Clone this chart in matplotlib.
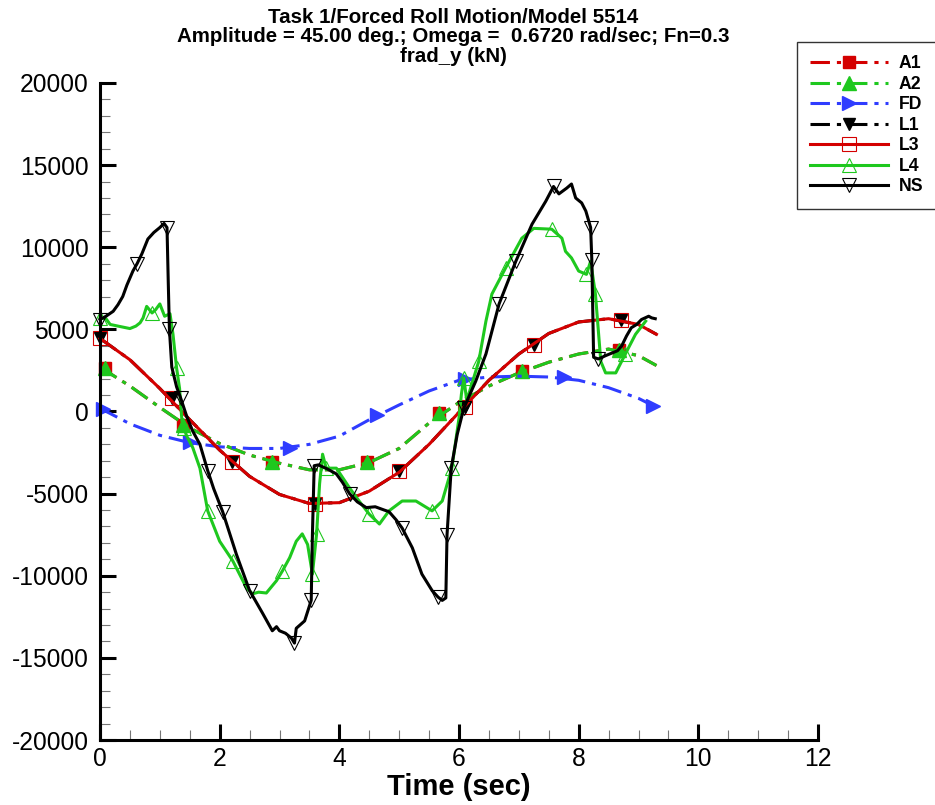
import matplotlib
matplotlib.use("Agg")
import matplotlib.pyplot as plt
from matplotlib.lines import Line2D
from matplotlib.ticker import MultipleLocator

plt.rcParams['font.family'] = ['Liberation Sans', 'DejaVu Sans']
plt.rcParams['lines.scale_dashes'] = False
plt.rcParams['axes.unicode_minus'] = False

# smooth model curves, read every 0.5 s
t_smooth = [0, 0.5, 1.0, 1.5, 2.0, 2.5, 3.0, 3.5, 4.0, 4.5, 5.0, 5.5, 6.0, 6.5,
            7.0, 7.5, 8.0, 8.5, 9.0, 9.3]
a2_vals = [2700, 1550, 250, -1000, -1950, -2650, -3150, -3550, -3550, -3100,
           -2250, -700, 550, 1550, 2350, 3000, 3500, 3800, 3400, 2800]
a1_vals = list(a2_vals)   # A1 lies under A2 in the picture
fd_vals = [200, -750, -1450, -1900, -2150, -2250, -2250, -2000, -1500, -500,
           400, 1250, 1900, 2100, 2150, 2100, 1900, 1450, 800, 250]
l3_vals = [4450, 3150, 1400, -500, -2350, -3950, -5050, -5600, -5550, -4850,
           -3700, -2000, -50, 1900, 3500, 4750, 5450, 5650, 5300, 4700]
l1_vals = list(l3_vals)   # L1 lies under L3

# symbol positions on the smooth curves
a_mark_t = [0.08, 1.38, 2.88, 4.47, 5.67, 7.05, 8.68]
a_mark_v = [2650, -850, -3100, -3100, -100, 2450, 3750]
fd_mark_t = [0.05, 1.5, 3.17, 4.63, 6.1, 7.75, 9.25]
fd_mark_v = [150, -1860, -2200, -200, 1980, 2080, 350]
l_mark_t = [0.0, 1.2, 2.2, 3.6, 5.0, 6.1, 7.25, 8.7]
l_mark_v = [4450, 800, -3100, -5650, -3650, 250, 4050, 5550]

# NS (CFD) trace
ns_t = [0.0, 0.1, 0.22, 0.3, 0.38, 0.45, 0.55, 0.62, 0.7, 0.8, 0.9, 1.0, 1.07,
        1.12, 1.14, 1.16, 1.2, 1.28, 1.35, 1.45, 1.55, 1.67, 1.8, 1.9, 2.05,
        2.28, 2.5, 2.72, 2.88, 2.95, 3.0, 3.1, 3.2, 3.25, 3.28, 3.42, 3.53,
        3.55, 3.58, 3.65, 3.8, 3.95, 4.05, 4.17, 4.3, 4.45, 4.6, 4.75, 4.83,
        4.95, 5.05, 5.22, 5.38, 5.55, 5.65, 5.72, 5.78, 5.8, 5.87, 5.97, 6.08,
        6.28, 6.45, 6.67, 6.95, 7.22, 7.45, 7.58, 7.67, 7.8, 7.88, 7.95, 8.05,
        8.12, 8.2, 8.22, 8.25, 8.33, 8.45, 8.55, 8.65, 8.72, 8.8, 8.88, 8.97,
        9.05, 9.17, 9.22, 9.28]
ns_vals = [5600, 5800, 6100, 6500, 7000, 7700, 8550, 9000, 9600, 10500, 10900,
           11200, 11450, 11200, 8000, 5000, 2700, 1500, 800, -300, -1200, -2000,
           -3600, -4700, -6100, -8700, -10900, -12300, -13350, -13100, -13350,
           -13500, -13800, -14100, -13200, -12750, -11500, -7500, -3300, -3250,
           -3500, -3800, -4300, -5000, -5500, -5850, -5800, -6000, -6100, -6600,
           -7100, -8300, -9900, -10900, -11300, -11500, -11350, -7500, -3450,
           -1400, 200, 1850, 3500, 6550, 9150, 11400, 12800, 13700, 13250, 13600,
           13850, 13000, 12700, 12200, 11200, 9200, 3300, 3200, 3400, 3550, 3700,
           4000, 4600, 5100, 5300, 5600, 5800, 5700, 5650]

# L4 trace
l4_t = [0.0, 0.1, 0.17, 0.3, 0.5, 0.6, 0.67, 0.72, 0.78, 0.87, 0.93, 1.0, 1.08,
        1.17, 1.22, 1.28, 1.33, 1.37, 1.4, 1.45, 1.55, 1.67, 1.8, 2.0, 2.22,
        2.45, 2.55, 2.65, 2.78, 2.95, 3.05, 3.17, 3.28, 3.38, 3.47, 3.55, 3.62,
        3.67, 3.72, 3.78, 3.95, 4.17, 4.33, 4.5, 4.67, 4.83, 5.05, 5.28, 5.55,
        5.72, 5.88, 6.0, 6.04, 6.08, 6.13, 6.2, 6.33, 6.45, 6.55, 6.78, 7.05,
        7.25, 7.55, 7.72, 7.78, 7.88, 8.0, 8.13, 8.2, 8.28, 8.37, 8.45, 8.62,
        8.78, 8.95, 9.12]
l4_vals = [5700, 5650, 5300, 5200, 5050, 5200, 5400, 5700, 6400, 6000, 6200,
           6550, 5800, 5950, 4700, 2650, 1400, -600, -1000, -1500, -2200, -3450,
           -6050, -7900, -9100, -10750, -11100, -11000, -11050, -10300, -9700,
           -8900, -7900, -7450, -8100, -9900, -7450, -4400, -2600, -3450, -3450,
           -4650, -5450, -6250, -6850, -6050, -5450, -5450, -6050, -5450, -3450,
           -400, 1050, 2050, 650, 1500, 3050, 5500, 7150, 8750, 10550, 11150,
           11100, 10550, 9750, 9350, 8550, 8350, 9150, 7150, 3050, 2350, 2350,
           3500, 4700, 5500]

red = '#d40000'
green = '#1ec81e'
blue = '#2f3cff'
dashdot = (0, (14, 5, 3, 5))

fig = plt.figure(figsize=(9.35, 8.05), dpi=100)
ax = fig.add_axes([100 / 935, 1 - 740 / 805, 718 / 935, 657 / 805])

lw = 2.2
ms = 10
# name, line x, line y, marker x, marker y (None -> markevery on the line), style
series = [
    ('A1', t_smooth, a1_vals, a_mark_t, a_mark_v,
     dict(color=red, ls=dashdot, marker='s', mfc=red, mec=red, ms=9)),
    ('A2', t_smooth, a2_vals, a_mark_t, a_mark_v,
     dict(color=green, ls=dashdot, marker='^', mfc=green, mec=green, ms=ms)),
    ('FD', t_smooth, fd_vals, fd_mark_t, fd_mark_v,
     dict(color=blue, ls=dashdot, marker='>', mfc=blue, mec=blue, ms=ms)),
    ('L1', t_smooth, l1_vals, l_mark_t, l_mark_v,
     dict(color='black', ls=dashdot, marker='v', mfc='black', mec='black', ms=9)),
    ('L3', t_smooth, l3_vals, l_mark_t, l_mark_v,
     dict(color=red, ls='-', marker='s', mfc='none', mec=red, ms=ms, mew=0.8)),
    ('L4', l4_t, l4_vals, None, None,
     dict(color=green, ls='-', marker='^', mfc='none', mec=green, ms=ms, mew=0.8)),
    ('NS', ns_t, ns_vals, None, None,
     dict(color='black', ls='-', marker='v', mfc='none', mec='black', ms=ms, mew=0.8)),
]

handles = []
for name, x, y, mx, my, style in series:
    if mx is None:
        ax.plot(x, y, lw=lw, markevery=0.075, clip_on=False, **style)
    else:
        line_style = {k: v for k, v in style.items() if k in ('color', 'ls')}
        mark_style = {k: v for k, v in style.items() if k not in ('color', 'ls')}
        ax.plot(x, y, lw=lw, clip_on=False, **line_style)
        ax.plot(mx, my, ls='none', clip_on=False, **mark_style)
    handles.append(Line2D([], [], lw=lw, label=name, **style))

ax.set_xlim(0, 12)
ax.set_ylim(-20000, 20000)
ax.xaxis.set_major_locator(MultipleLocator(2))
ax.xaxis.set_minor_locator(MultipleLocator(0.5))
ax.yaxis.set_major_locator(MultipleLocator(5000))
ax.yaxis.set_minor_locator(MultipleLocator(1000))
ax.tick_params(which='major', direction='in', length=11.5, width=2.2,
               labelsize=17.7, pad=5)
ax.tick_params(axis='y', which='major', pad=8)
ax.tick_params(which='minor', direction='in', length=7, width=0.8, color='#777777')

for side in ['top', 'right']:
    ax.spines[side].set_visible(False)
for side in ['left', 'bottom']:
    ax.spines[side].set_linewidth(2.2)

ax.set_xlabel('Time (sec)', fontsize=21, fontweight='bold')
ax.xaxis.set_label_coords(0.5, -0.05)

fig.text(453 / 935, 1 - 8 / 805,
         'Task 1/Forced Roll Motion/Model 5514\n'
         'Amplitude = 45.00 deg.; Omega =  0.6720 rad/sec; Fn=0.3\n'
         'frad_y (kN)',
         ha='center', va='top', fontsize=14.8, fontweight='bold', linespacing=1.03)

leg = fig.legend(handles=handles, loc='upper left',
                 bbox_to_anchor=(797 / 935, 1 - 42 / 805), frameon=True,
                 fancybox=False, shadow=False, prop=dict(weight='bold', size=12.7),
                 handlelength=4.4, handletextpad=0.6, labelspacing=0.2,
                 borderpad=0.75, borderaxespad=0, numpoints=1)
leg.get_frame().set_edgecolor('black')
leg.get_frame().set_linewidth(1.0)

fig.savefig('out.png', dpi=100)
